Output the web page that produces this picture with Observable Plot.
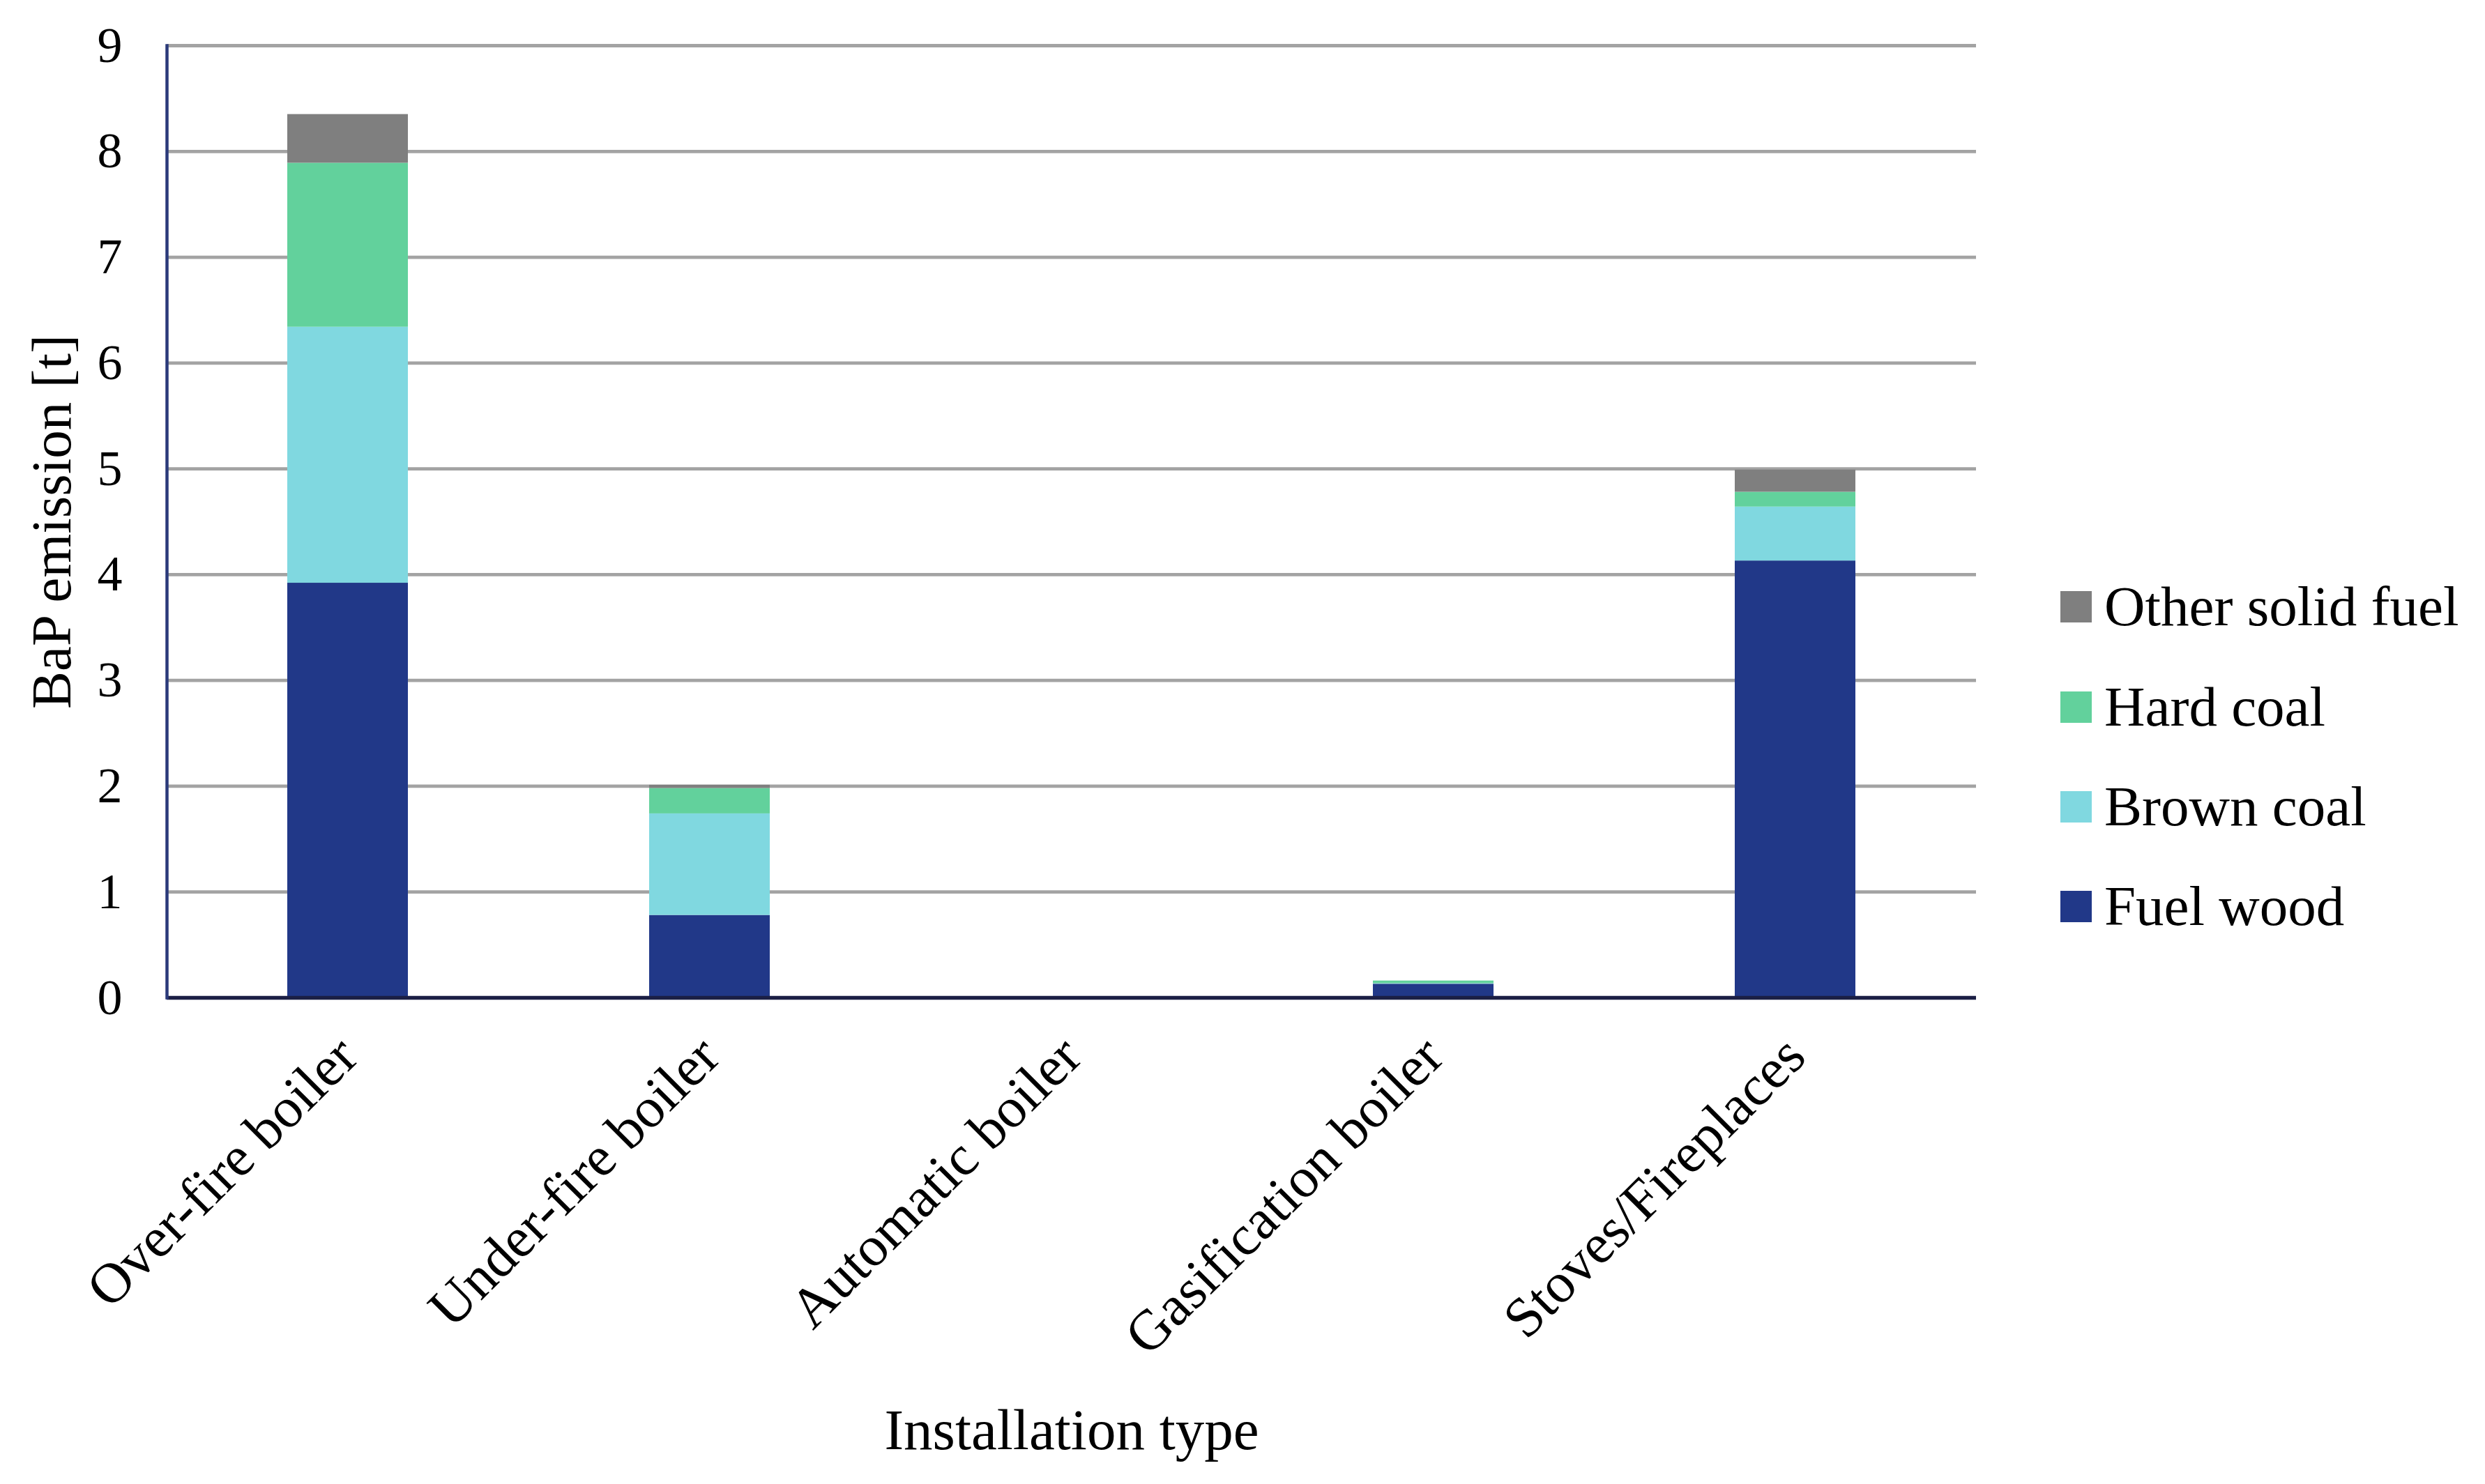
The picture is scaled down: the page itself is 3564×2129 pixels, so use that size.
<!DOCTYPE html>
<html>
<head>
<meta charset="utf-8">
<script src="https://cdn.jsdelivr.net/npm/d3@7"></script>
<script src="https://cdn.jsdelivr.net/npm/@observablehq/plot@0.6"></script>
<style>
  html, body { margin: 0; padding: 0; background: #fff; }
  #wrap { position: relative; width: 3564px; height: 2129px; overflow: hidden; }
  #legend { position: absolute; left: 2955px; top: 0; font-family: "Liberation Serif", serif; font-size: 81px; color: #000; }
  .item { position: absolute; display: flex; align-items: center; white-space: nowrap; }
  .sw { width: 45px; height: 45px; margin-right: 18px; flex: none; }
</style>
</head>
<body>
<div id="wrap"><div id="legend"></div></div>
<script>
// ---- data ----
const installations = ["Over-fire boiler", "Under-fire boiler", "Automatic boiler", "Gasification boiler", "Stoves/Fireplaces"];
const fuels = ["Fuel wood", "Brown coal", "Hard coal", "Other solid fuel"];
const fuelWood = [3.92, 0.78, 0.0, 0.13, 4.13];
const brownCoal = [2.42, 0.96, 0.0, 0.005, 0.51];
const hardCoal = [1.55, 0.24, 0.0, 0.025, 0.14];
const otherSolid = [0.46, 0.03, 0.0, 0.0, 0.21];
const fuelColors = ["#213888", "#80D8E0", "#62D19C", "#7F7F7F"];
const yTicks = [0, 1, 2, 3, 4, 5, 6, 7, 8, 9];
const legendOrder = ["Other solid fuel", "Hard coal", "Brown coal", "Fuel wood"];
const xTitle = "Installation type";
const yTitle = "BaP emission [t]";

const series = [fuelWood, brownCoal, hardCoal, otherSolid];
const rows = [];
installations.forEach((inst, i) => {
  fuels.forEach((f, j) => rows.push({installation: inst, fuel: f, value: series[j][i]}));
});

const font = "Liberation Serif, serif";

const chart = Plot.plot({
  width: 3564,
  height: 2129,
  marginLeft: 239,
  marginRight: 730,
  marginTop: 65,
  marginBottom: 698,
  style: {fontFamily: font, background: "transparent", color: "#000"},
  x: {domain: installations, paddingInner: 0.667, paddingOuter: 0.333},
  y: {domain: [0, 9]},
  color: {domain: fuels, range: fuelColors},
  marks: [
    Plot.ruleY(yTicks.filter(d => d > 0), {stroke: "#A3A3A3", strokeWidth: 4.8}),
    Plot.barY(rows, Plot.stackY({order: fuels}, {x: "installation", y: "value", fill: "fuel", z: "fuel"})),
    Plot.ruleY([0], {stroke: "#1B1F45", strokeWidth: 5.5}),
    Plot.frame({anchor: "left", stroke: "#2B3A7A", strokeWidth: 4.5}),
    Plot.axisY({ticks: yTicks, tickSize: 0, tickPadding: 64, fontSize: 72, label: null, tickFormat: d => String(d)}),
    Plot.axisX({tickRotate: -45, tickSize: 0, tickPadding: 70, fontSize: 81, label: null}),
    Plot.text([xTitle], {frameAnchor: "bottom", dy: 621, fontSize: 83, lineAnchor: "middle", textAnchor: "middle"}),
    Plot.text([yTitle], {frameAnchor: "left", dx: -164, rotate: -90, fontSize: 81, lineAnchor: "middle", textAnchor: "middle"})
  ]
});
document.getElementById("wrap").prepend(chart);

// legend
const legend = document.getElementById("legend");
const rowY = [870, 1014, 1157, 1300];
legendOrder.forEach((f, i) => {
  const item = document.createElement("div");
  item.className = "item";
  item.style.top = (rowY[i] - 50) + "px";
  item.style.height = "100px";
  const sw = document.createElement("div");
  sw.className = "sw";
  sw.style.background = fuelColors[fuels.indexOf(f)];
  const tx = document.createElement("span");
  tx.textContent = f;
  item.append(sw, tx);
  legend.append(item);
});
</script>
</body>
</html>
